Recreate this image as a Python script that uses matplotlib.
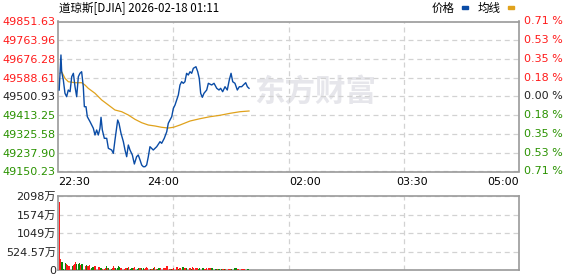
import matplotlib
matplotlib.use("Agg")
import matplotlib.pyplot as plt
from matplotlib.patches import Rectangle
import numpy as np

plt.rcParams['font.family'] = ['DejaVu Sans', 'Noto Sans CJK SC']

# ---------------- data ----------------
title = "道琼斯[DJIA] 2026-02-18 01:11"
base_price = 49500.93
price_ticks = [49851.63, 49763.96, 49676.28, 49588.61, 49500.93,
               49413.25, 49325.58, 49237.90, 49150.23]
pct_labels = ["0.71 %", "0.53 %", "0.35 %", "0.18 %", "0.00 %",
              "0.18 %", "0.35 %", "0.53 %", "0.71 %"]
time_labels = ["22:30", "24:00", "02:00", "03:30", "05:00"]
vol_ticks = [0, 524.57, 1049.14, 1573.71, 2098.28]
vol_tick_labels = ["0", "524.57万", "1049万", "1574万", "2098万"]

price_min = [1, 2.5, 3.1, 4.5, 5.9, 7.3, 8.7, 10.2, 11.6, 13,
             14.4, 15.8, 17.2, 18.6, 20, 21.4, 22.3, 23.7, 24.8, 27.1,
             29.9, 31.3, 32.7, 34.1, 35.5, 36.4, 37.5, 39.2, 41.2, 42.6,
             45.4, 46.8, 48.2, 50.5, 51.6, 53.3, 55.3, 56.7, 58.1, 59.5,
             60.9, 62.9, 64.6, 66.5, 67.9, 69.4, 70.8, 72.2, 73.6, 75,
             76.4, 77.8, 80.6, 83.5, 86.3, 87.7, 89.9, 92, 93.3, 96.2,
             97.6, 99, 101.8, 103.2, 104.6, 106, 107.4, 108.8, 110.2, 111.7,
             113.1, 114.5, 116.7, 118.2, 119.5, 120.7, 122.1, 123.5, 125.8, 127.2,
             130, 132, 134.3, 136.2, 137.6, 139.3, 141.3, 143.2, 144.9, 146.4,
             147.8, 149.7, 151.7, 153.4, 155.4, 156.8, 158.8, 160.2, 161.6]
price_val = [49531.3, 49695.0, 49616.9, 49578.1, 49515.9, 49500.0, 49531.3, 49523.3, 49593.5, 49609.4,
             49546.7, 49500.0, 49593.5, 49609.4, 49616.9, 49546.7, 49453.2, 49453.2, 49406.4, 49383.1,
             49352.2, 49320.9, 49344.3, 49320.9, 49352.2, 49403.6, 49344.3, 49305.4, 49305.4, 49258.7,
             49250.7, 49235.3, 49297.5, 49391.0, 49375.6, 49328.8, 49289.6, 49250.7, 49219.4, 49274.1,
             49250.7, 49227.4, 49185.3, 49219.4, 49227.4, 49204.0, 49180.6, 49172.6, 49172.6, 49180.6,
             49219.4, 49266.2, 49250.7, 49266.2, 49289.6, 49282.1, 49305.4, 49336.3, 49375.6, 49406.4,
             49445.7, 49461.2, 49507.9, 49554.7, 49570.1, 49562.6, 49570.1, 49609.4, 49601.4, 49616.9,
             49609.4, 49632.8, 49640.2, 49616.9, 49586.0, 49515.9, 49497.2, 49515.9, 49531.3, 49562.6,
             49554.7, 49562.6, 49539.2, 49531.3, 49539.2, 49523.3, 49546.7, 49531.3, 49578.1, 49609.4,
             49570.1, 49562.6, 49531.3, 49546.7, 49546.7, 49554.7, 49565.4, 49546.7, 49539.2]

avg_min = [1.7, 3.1, 5.9, 8.7, 14.4, 20, 22.8, 25.6, 31.3, 37, 42.6, 48.2, 53.9, 59.5,
           65.1, 70.8, 76.4, 82.1, 87.7, 93.3, 97.6, 103.2, 111.7, 120.1, 128.6, 137,
           145.5, 154, 161.6]
avg_val = [49609.4, 49616.9, 49586.0, 49570.1, 49565.4, 49565.4, 49554.7, 49539.2, 49515.9,
           49484.5, 49461.2, 49437.8, 49429.8, 49414.4, 49394.3, 49378.4, 49367.6, 49363.0,
           49356.9, 49353.6, 49356.9, 49367.6, 49386.3, 49397.1, 49406.4, 49413.0, 49422.3,
           49429.8, 49433.1]

# volume per minute (万), minutes 1..161
volume = [1936, 312, 217, 217, 40, 189, 160, 142, 123, 123,
          110, 113, 140, 180, 236, 170, 170, 189, 142, 170,
          170, 50, 104, 142, 123, 123, 142, 50, 95, 95,
          123, 123, 40, 76, 85, 57, 57, 30, 40, 66,
          104, 66, 57, 57, 30, 66, 113, 66, 66, 66,
          104, 76, 47, 47, 30, 40, 47, 66, 57, 85,
          30, 47, 47, 57, 85, 38, 38, 47, 47, 47,
          66, 66, 30, 47, 76, 47, 47, 30, 38, 38,
          57, 76, 38, 30, 47, 47, 47, 47, 47, 50,
          47, 104, 104, 40, 40, 25, 25, 66, 85, 85,
          85, 30, 50, 50, 85, 85, 50, 50, 47, 66,
          66, 47, 25, 85, 47, 47, 57, 57, 25, 57,
          57, 57, 66, 25, 25, 66, 66, 66, 66, 47,
          47, 38, 38, 38, 20, 20, 28, 28, 28, 28,
          28, 20, 38, 38, 38, 38, 20, 85, 57, 57,
          57, 20, 38, 38, 38, 38, 38, 38, 38, 38,
          38]
vol_dir = ("rrggggrrrr" "rgrrrgggrg" "grrgrrrggg" "rrgrrggrrr" "grgggrrrgg"
           "ggrrrrrrgr" "gggrrgggrr" "ggrrrrrgrr" "grrgggrgrr" "rrrrrgrrrr"
           "rgrrggrrgr" "rrgrrrrrgg" "gggrrrrrrg" "ggggrgggrr" "grrrrrgggg"
           "grrrrrrrgg" "g")
vol_min = np.arange(1, len(volume) + 1)

# ---------------- style ----------------
W, H = 578, 276
RED = '#ff1a1a'
GREEN = '#2a9200'
DARK = '#222222'
BLUE = '#0a4ca6'
GOLD = '#e0a21c'
SPINE = '#9a9a9a'
GRID = '#d2d2d2'
FS = 8

fig = plt.figure(figsize=(W / 100, H / 100), dpi=100)
ax = fig.add_axes([58 / W, 1 - 171.5 / H, 461 / W, 150 / H])
ax2 = fig.add_axes([58 / W, 1 - 270 / H, 461 / W, 74 / H])

for a in (ax, ax2):
    a.set_xlim(0, 390)
    for s in a.spines.values():
        s.set_color(SPINE)
        s.set_linewidth(1.2)
    a.set_xticks([97.5, 195, 292.5])
    a.tick_params(axis='x', length=0, labelbottom=False)
    a.grid(True, color=GRID, linestyle=(0, (4, 3)), linewidth=0.9)
    a.set_axisbelow(True)

# main chart
ax.set_ylim(price_ticks[-1], price_ticks[0])
ax.set_yticks(price_ticks)
ax.set_yticklabels([f"{v:.2f}" for v in price_ticks], fontsize=FS)
ax.tick_params(axis='y', length=0, pad=1.5)
for lbl, v in zip(ax.get_yticklabels(), price_ticks):
    lbl.set_color(RED if v > base_price + 1 else (GREEN if v < base_price - 1 else DARK))
for v, txt in zip(price_ticks, pct_labels):
    col = RED if v > base_price + 1 else (GREEN if v < base_price - 1 else DARK)
    ax.text(1.0108, v, txt, transform=ax.get_yaxis_transform(), ha='left',
            va='center', fontsize=FS, color=col)

ax.text(0.558, 0.53, "东方财富", transform=ax.transAxes, ha='center', va='center',
        fontsize=22, fontweight='bold', color='#e6e6eb',
        family=['Noto Sans CJK SC'], zorder=0)

ax.plot(avg_min, avg_val, color=GOLD, lw=0.9, zorder=3)
ax.plot(price_min, price_val, color=BLUE, lw=1.0, zorder=4)

tick_pos = [(0, 'left'), (88.8, 'center'), (209, 'center'), (299.5, 'center'), (390, 'right')]
for (xp, ha), lab in zip(tick_pos, time_labels):
    ax.text(xp, -0.067, lab, transform=ax.get_xaxis_transform(), ha=ha,
            va='center', fontsize=FS, color='black')

# volume chart
ax2.set_ylim(0, vol_ticks[-1])
ax2.set_yticks(vol_ticks)
ax2.set_yticklabels(vol_tick_labels, fontsize=FS, color=DARK)
ax2.tick_params(axis='y', length=0, pad=1.5)
colors = [RED if c == 'r' else '#0a8a0a' for c in vol_dir]
ax2.bar(vol_min, volume, width=0.75, color=colors, linewidth=0, zorder=3)

# title and legend
fig.text(59 / W, 1 - 8.5 / H, title, ha='left', va='center', fontsize=8.3,
         family=['Noto Sans CJK SC', 'DejaVu Sans'], color='black')
fig.text(443 / W, 1 - 8.5 / H, "价格", ha='center', va='center', fontsize=8.3,
         family=['Noto Sans CJK SC'], color='black')
fig.text(489.5 / W, 1 - 8.5 / H, "均线", ha='center', va='center', fontsize=8.3,
         family=['Noto Sans CJK SC'], color='black')
fig.patches.append(Rectangle((462 / W, 1 - 9 / H), 6 / W, 3 / H,
                             transform=fig.transFigure, color=BLUE))
fig.patches.append(Rectangle((508 / W, 1 - 9 / H), 6 / W, 3 / H,
                             transform=fig.transFigure, color=GOLD))

fig.savefig("out.png", dpi=100)
